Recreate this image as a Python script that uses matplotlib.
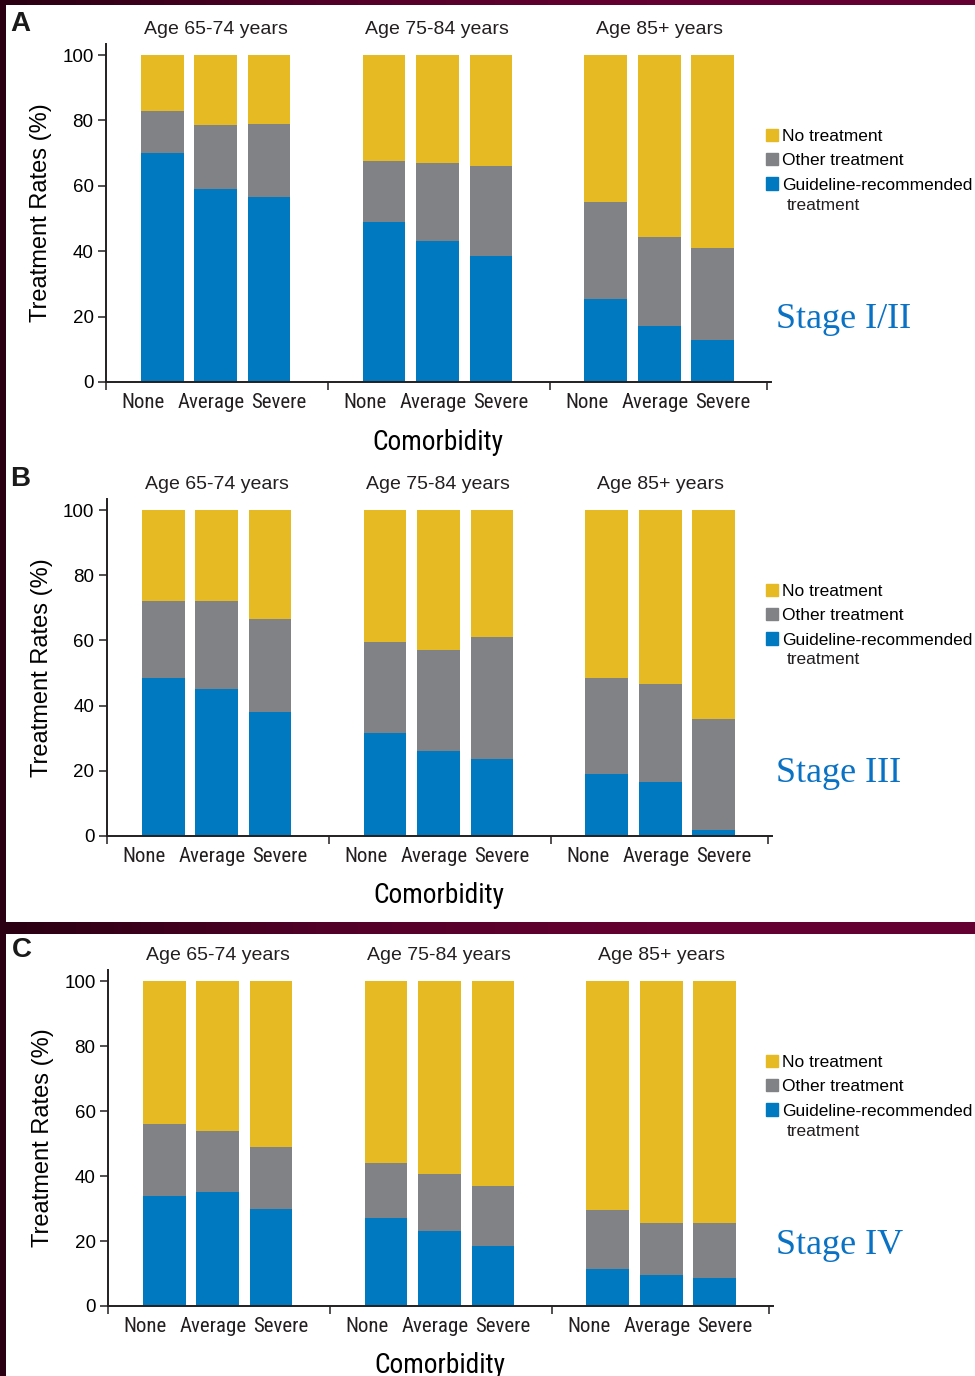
import numpy as np
import matplotlib
matplotlib.use('Agg')
import matplotlib.pyplot as plt
from matplotlib.patches import Rectangle, Patch
from matplotlib.colors import LinearSegmentedColormap

# Age groups and comorbidity levels
grupos = ['Age 65-74 years', 'Age 75-84 years', 'Age 85+ years']
comorbidade = ['None', 'Average', 'Severe']

# Guideline-recommended (blue) and other treatment (gray), % per bar;
# bars are ordered None/Average/Severe within each age group
guia_I_II = [70, 59, 56.5, 49, 43, 38.5, 25.5, 17, 13]
outro_I_II = [13, 19.5, 22.5, 18.5, 24, 27.5, 29.5, 27.5, 28]

guia_III = [48.5, 45, 38, 31.5, 26, 23.5, 19, 16.5, 1.7]
outro_III = [23.5, 27, 28.5, 28, 31, 37.5, 29.5, 30, 34.3]

guia_IV = [34, 35, 30, 27, 23, 18.5, 11.5, 9.5, 8.5]
outro_IV = [22, 19, 19, 17, 17.5, 18.5, 18, 16, 17]

estagios = ['Stage I/II', 'Stage III', 'Stage IV']
letras = ['A', 'B', 'C']

cor_nenhum = '#E5BA22'
cor_outro = '#818285'
cor_guia = '#0079C1'
cor_eixo = '#231F20'

fonte_normal = ['Liberation Sans', 'DejaVu Sans']
fonte_estreita = ['Roboto Condensed', 'Liberation Sans Narrow', 'DejaVu Sans']

W, H = 975, 1376
fig = plt.figure(figsize=(W / 100, H / 100), dpi=100)

# Fundo bordô com degradê e painéis brancos
fundo = fig.add_axes([0, 0, 1, 1], zorder=-10)
grad = np.linspace(0, 1, 256)[None, :]
cmap_fundo = LinearSegmentedColormap.from_list('bordo', ['#2a0012', '#520028', '#650032', '#650032'])
fundo.imshow(grad, aspect='auto', cmap=cmap_fundo, extent=[0, 1, 0, 1])
fundo.set_xlim(0, 1)
fundo.set_ylim(0, 1)
fundo.axis('off')
fundo.add_patch(Rectangle((6 / W, 1 - 922 / H), 1, (922 - 5) / H, color='white', lw=0))
fundo.add_patch(Rectangle((6 / W, 0), 1, 1 - 934 / H, color='white', lw=0))

# Posições das barras
largura = 0.8
passo_grupo = 4.15
centros = np.array([g * passo_grupo for g in range(3)])
pos_barras = np.concatenate([c + np.array([-1, 0, 1]) for c in centros])
limites = list(centros - 2.05) + [10.32]
# rótulos de comorbidade ficam um pouco mais espalhados que as barras
pos_rotulos = np.concatenate([c + np.array([-1.35, -0.08, 1.19]) for c in centros])

# (left px, bottom px, top px) of each panel
paineis = [(106, 382, 44), (107, 836, 499), (108, 1306, 970)]
dados = [(guia_I_II, outro_I_II), (guia_III, outro_III), (guia_IV, outro_IV)]

for i, ((esq, base, topo), (guia, outro)) in enumerate(zip(paineis, dados)):
    guia = np.array(guia)
    outro = np.array(outro)
    nenhum = 100 - guia - outro

    ax = fig.add_axes([esq / W, 1 - base / H, 665 / W, (base - topo) / H])
    ax.set_facecolor('none')

    ax.bar(pos_barras, guia, largura, color=cor_guia)
    ax.bar(pos_barras, outro, largura, bottom=guia, color=cor_outro)
    ax.bar(pos_barras, nenhum, largura, bottom=guia + outro, color=cor_nenhum)

    ax.set_xlim(-2.05, 10.39)
    ax.set_ylim(0, 103.4)

    for lado in ['top', 'right']:
        ax.spines[lado].set_visible(False)
    for lado in ['left', 'bottom']:
        ax.spines[lado].set_linewidth(1.4)
        ax.spines[lado].set_color(cor_eixo)

    ax.set_yticks(range(0, 101, 20))
    ax.set_yticklabels([str(v) for v in range(0, 101, 20)], family=fonte_normal, fontsize=13.5)
    ax.tick_params(axis='y', length=6, width=1.1, color=cor_eixo, pad=3)

    ax.set_xticks(limites)
    ax.set_xticklabels([])
    ax.tick_params(axis='x', which='major', length=6, width=1.1, color=cor_eixo)
    ax.set_xticks(pos_rotulos, minor=True)
    ax.set_xticklabels(comorbidade * 3, minor=True, family=fonte_estreita,
                       fontstretch='condensed', fontsize=15)
    ax.tick_params(axis='x', which='minor', length=0, pad=8, labelcolor='#231F20')

    ax.set_ylabel('Treatment Rates (%)', family=fonte_normal, fontsize=17, labelpad=7)
    ax.text(centros[1], -0.178, 'Comorbidity', transform=ax.get_xaxis_transform(),
            ha='center', va='center', family=fonte_estreita, fontstretch='condensed', fontsize=19.7)

    for c, nome in zip(centros, grupos):
        ax.text(c, 1.042, nome, transform=ax.get_xaxis_transform(),
                ha='center', va='center', family=fonte_normal, fontsize=14, color='#231F20')

    # Legenda
    alcas = [Patch(color=cor_nenhum), Patch(color=cor_outro), Patch(color=cor_guia)]
    rotulos = ['No treatment', 'Other treatment', 'Guideline-recommended']
    fig.legend(alcas, rotulos, loc='upper left',
               bbox_to_anchor=(766 / W, 1 - (topo + 85) / H),
               frameon=False, prop={'family': fonte_normal, 'size': 12.5},
               handlelength=0.7, handleheight=0.7, handletextpad=0.25,
               labelspacing=0.52, borderpad=0, borderaxespad=0)
    fig.text(787 / W, 1 - (topo + 161) / H, 'treatment', ha='left', va='center',
             family=fonte_normal, fontsize=12.5, color='#231F20')

    fig.text(776 / W, 1 - (topo + 275) / H, estagios[i], ha='left', va='center',
             family=['Liberation Serif', 'DejaVu Serif'], fontsize=26, color='#0a72c4')

    fig.text((10 + (2 if i == 2 else 0)) / W, 1 - (topo - 20) / H, letras[i], ha='left', va='center',
             family=fonte_normal, fontsize=20, fontweight='bold', color='#1a1a1a')

fig.savefig('out.png', dpi=100)
